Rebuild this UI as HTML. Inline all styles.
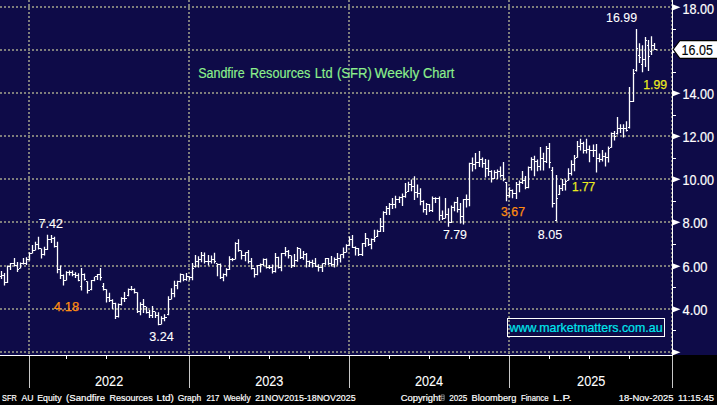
<!DOCTYPE html><html><head><meta charset="utf-8"><title>SFR Weekly Chart</title><style>html,body{margin:0;padding:0;background:#000;width:717px;height:405px;overflow:hidden;font-family:"Liberation Sans",sans-serif}</style></head><body><svg width="717" height="405" viewBox="0 0 717 405" style="display:block;position:absolute;left:0;top:0" font-family="Liberation Sans, sans-serif">
<rect x="0" y="0" width="717" height="405" fill="#000"/>
<rect x="0" y="0" width="717" height="355" fill="#0e0b48"/>
<defs><pattern id="hd" x="0" y="0" width="4" height="2" patternUnits="userSpaceOnUse"><rect x="0" y="0" width="2" height="2" fill="#7e7e7b"/></pattern><pattern id="vd" x="0" y="0" width="2" height="4" patternUnits="userSpaceOnUse"><rect x="0" y="0" width="2" height="2" fill="#7e7e7b"/></pattern></defs>
<g transform="translate(0,6)"><rect x="0" y="0" width="672" height="2" fill="url(#hd)"/></g>
<g transform="translate(0,49)"><rect x="0" y="0" width="672" height="2" fill="url(#hd)"/></g>
<g transform="translate(0,92)"><rect x="0" y="0" width="672" height="2" fill="url(#hd)"/></g>
<g transform="translate(0,135)"><rect x="0" y="0" width="672" height="2" fill="url(#hd)"/></g>
<g transform="translate(0,178)"><rect x="0" y="0" width="672" height="2" fill="url(#hd)"/></g>
<g transform="translate(0,221)"><rect x="0" y="0" width="672" height="2" fill="url(#hd)"/></g>
<g transform="translate(0,265)"><rect x="0" y="0" width="672" height="2" fill="url(#hd)"/></g>
<g transform="translate(0,308)"><rect x="0" y="0" width="672" height="2" fill="url(#hd)"/></g>
<g transform="translate(0,351)"><rect x="0" y="0" width="672" height="2" fill="url(#hd)"/></g>
<g transform="translate(28,0)"><rect x="0" y="0" width="2" height="354" fill="url(#vd)"/></g>
<g transform="translate(188,0)"><rect x="0" y="0" width="2" height="354" fill="url(#vd)"/></g>
<g transform="translate(348,0)"><rect x="0" y="0" width="2" height="354" fill="url(#vd)"/></g>
<g transform="translate(508,0)"><rect x="0" y="0" width="2" height="354" fill="url(#vd)"/></g>
<g transform="translate(671,0)"><rect x="0" y="0" width="2" height="354" fill="url(#vd)"/></g>
<rect x="672" y="0" width="1" height="355" fill="#fff"/>
<rect x="672" y="355" width="1" height="33" fill="#c8c8c8"/>
<rect x="0" y="355" width="673" height="1" fill="#fff"/>
<path d="M673 4.4 L680.5 7.3 L673 10.2 Z" fill="#fff"/>
<path d="M673 47.4 L680.5 50.3 L673 53.2 Z" fill="#fff"/>
<path d="M673 90.4 L680.5 93.3 L673 96.2 Z" fill="#fff"/>
<path d="M673 133.4 L680.5 136.3 L673 139.2 Z" fill="#fff"/>
<path d="M673 176.4 L680.5 179.3 L673 182.2 Z" fill="#fff"/>
<path d="M673 219.4 L680.5 222.3 L673 225.2 Z" fill="#fff"/>
<path d="M673 263.4 L680.5 266.3 L673 269.2 Z" fill="#fff"/>
<path d="M673 306.4 L680.5 309.3 L673 312.2 Z" fill="#fff"/>
<path d="M673 349.4 L680.5 352.3 L673 355.2 Z" fill="#fff"/>
<rect x="673" y="29" width="3" height="1" fill="#fff"/>
<rect x="673" y="72" width="3" height="1" fill="#fff"/>
<rect x="673" y="115" width="3" height="1" fill="#fff"/>
<rect x="673" y="158" width="3" height="1" fill="#fff"/>
<rect x="673" y="201" width="3" height="1" fill="#fff"/>
<rect x="673" y="244" width="3" height="1" fill="#fff"/>
<rect x="673" y="287" width="3" height="1" fill="#fff"/>
<rect x="673" y="330" width="3" height="1" fill="#fff"/>
<text x="682.5" y="13.9" font-size="14.2" fill="#fff" stroke="#fff" stroke-width="0.2" textLength="31.5" lengthAdjust="spacingAndGlyphs">18.00</text>
<text x="682.5" y="98.9" font-size="14.2" fill="#fff" stroke="#fff" stroke-width="0.2" textLength="31.5" lengthAdjust="spacingAndGlyphs">14.00</text>
<text x="682.5" y="141.9" font-size="14.2" fill="#fff" stroke="#fff" stroke-width="0.2" textLength="31.5" lengthAdjust="spacingAndGlyphs">12.00</text>
<text x="682.5" y="184.9" font-size="14.2" fill="#fff" stroke="#fff" stroke-width="0.2" textLength="31.5" lengthAdjust="spacingAndGlyphs">10.00</text>
<text x="682.5" y="227.9" font-size="14.2" fill="#fff" stroke="#fff" stroke-width="0.2" textLength="25" lengthAdjust="spacingAndGlyphs">8.00</text>
<text x="682.5" y="271.9" font-size="14.2" fill="#fff" stroke="#fff" stroke-width="0.2" textLength="25" lengthAdjust="spacingAndGlyphs">6.00</text>
<text x="682.5" y="314.9" font-size="14.2" fill="#fff" stroke="#fff" stroke-width="0.2" textLength="25" lengthAdjust="spacingAndGlyphs">4.00</text>
<path d="M673.2 49.4 L679.8 40.6 L722 40.6 L722 58.4 L679.8 58.4 Z" fill="#fff" stroke="#000" stroke-width="1.1"/>
<text x="681.6" y="55" font-size="14.5" fill="#000" stroke="#000" stroke-width="0.15" textLength="31.3" lengthAdjust="spacingAndGlyphs">16.05</text>
<rect x="29" y="356" width="1" height="32" fill="#c8c8c8"/>
<rect x="189" y="356" width="1" height="32" fill="#c8c8c8"/>
<rect x="349" y="356" width="1" height="32" fill="#c8c8c8"/>
<rect x="509" y="356" width="1" height="32" fill="#c8c8c8"/>
<rect x="66" y="356" width="1" height="3" fill="#fff"/>
<rect x="106" y="356" width="1" height="3" fill="#fff"/>
<rect x="149" y="356" width="1" height="3" fill="#fff"/>
<rect x="229" y="356" width="1" height="3" fill="#fff"/>
<rect x="269" y="356" width="1" height="3" fill="#fff"/>
<rect x="309" y="356" width="1" height="3" fill="#fff"/>
<rect x="389" y="356" width="1" height="3" fill="#fff"/>
<rect x="429" y="356" width="1" height="3" fill="#fff"/>
<rect x="469" y="356" width="1" height="3" fill="#fff"/>
<rect x="549" y="356" width="1" height="3" fill="#fff"/>
<rect x="589" y="356" width="1" height="3" fill="#fff"/>
<rect x="629" y="356" width="1" height="3" fill="#fff"/>
<text x="95.0" y="386.2" font-size="14.5" fill="#fff" stroke="#fff" stroke-width="0.1" textLength="28.2" lengthAdjust="spacingAndGlyphs">2022</text>
<text x="255.2" y="386.2" font-size="14.5" fill="#fff" stroke="#fff" stroke-width="0.1" textLength="28.2" lengthAdjust="spacingAndGlyphs">2023</text>
<text x="414.9" y="386.2" font-size="14.5" fill="#fff" stroke="#fff" stroke-width="0.1" textLength="28.2" lengthAdjust="spacingAndGlyphs">2024</text>
<text x="577.1" y="386.2" font-size="14.5" fill="#fff" stroke="#fff" stroke-width="0.1" textLength="28.2" lengthAdjust="spacingAndGlyphs">2025</text>
<text x="2.0" y="401" font-size="9.8" fill="#fff" stroke="#fff" stroke-width="0.2" textLength="14.7" lengthAdjust="spacingAndGlyphs">SFR</text>
<text x="21.4" y="401" font-size="9.8" fill="#fff" stroke="#fff" stroke-width="0.2" textLength="12.1" lengthAdjust="spacingAndGlyphs">AU</text>
<text x="37.2" y="401" font-size="9.8" fill="#fff" stroke="#fff" stroke-width="0.2" textLength="24.4" lengthAdjust="spacingAndGlyphs">Equity</text>
<text x="66.1" y="401" font-size="9.8" fill="#fff" stroke="#fff" stroke-width="0.2" textLength="39.0" lengthAdjust="spacingAndGlyphs">(Sandfire</text>
<text x="109.4" y="401" font-size="9.8" fill="#fff" stroke="#fff" stroke-width="0.2" textLength="43.3" lengthAdjust="spacingAndGlyphs">Resources</text>
<text x="156.6" y="401" font-size="9.8" fill="#fff" stroke="#fff" stroke-width="0.2" textLength="17.2" lengthAdjust="spacingAndGlyphs">Ltd)</text>
<text x="177.7" y="401" font-size="9.8" fill="#fff" stroke="#fff" stroke-width="0.2" textLength="23.5" lengthAdjust="spacingAndGlyphs">Graph</text>
<text x="206.4" y="401" font-size="9.8" fill="#fff" stroke="#fff" stroke-width="0.2" textLength="13.1" lengthAdjust="spacingAndGlyphs">217</text>
<text x="223.4" y="401" font-size="9.8" fill="#fff" stroke="#fff" stroke-width="0.2" textLength="27.2" lengthAdjust="spacingAndGlyphs">Weekly</text>
<text x="255.2" y="401" font-size="9.8" fill="#fff" stroke="#fff" stroke-width="0.2" textLength="100.4" lengthAdjust="spacingAndGlyphs">21NOV2015-18NOV2025</text>
<text x="400.7" y="401" font-size="9.8" fill="#fff" stroke="#fff" stroke-width="0.2" textLength="40.2" lengthAdjust="spacingAndGlyphs">Copyright</text>
<text x="449.2" y="401" font-size="9.8" fill="#fff" stroke="#fff" stroke-width="0.2" textLength="18.0" lengthAdjust="spacingAndGlyphs">2025</text>
<text x="471.6" y="401" font-size="9.8" fill="#fff" stroke="#fff" stroke-width="0.2" textLength="44.7" lengthAdjust="spacingAndGlyphs">Bloomberg</text>
<text x="520.9" y="401" font-size="9.8" fill="#fff" stroke="#fff" stroke-width="0.2" textLength="27.6" lengthAdjust="spacingAndGlyphs">Finance</text>
<text x="552.9" y="401" font-size="9.8" fill="#fff" stroke="#fff" stroke-width="0.2" textLength="18.8" lengthAdjust="spacingAndGlyphs">L.P.</text>
<text x="618.8" y="401" font-size="9.8" fill="#fff" stroke="#fff" stroke-width="0.2" textLength="54.6" lengthAdjust="spacingAndGlyphs">18-Nov-2025</text>
<text x="678" y="401" font-size="9.8" fill="#fff" stroke="#fff" stroke-width="0.2" textLength="35.9" lengthAdjust="spacingAndGlyphs">11:15:45</text>
<path d="M441.2 394.9h3v5.4h-3zM441.2 396.7h3M441.2 398.5h3" fill="none" stroke="#bdbdbd" stroke-width="0.6"/>
<text x="198.2" y="78.2" font-size="13.8" fill="#8cf08c" stroke="#8cf08c" stroke-width="0.15" textLength="46.5" lengthAdjust="spacingAndGlyphs">Sandfire</text>
<text x="249.9" y="78.2" font-size="13.8" fill="#8cf08c" stroke="#8cf08c" stroke-width="0.15" textLength="60.5" lengthAdjust="spacingAndGlyphs">Resources</text>
<text x="314.7" y="78.2" font-size="13.8" fill="#8cf08c" stroke="#8cf08c" stroke-width="0.15" textLength="17.9" lengthAdjust="spacingAndGlyphs">Ltd</text>
<text x="336.9" y="78.2" font-size="13.8" fill="#8cf08c" stroke="#8cf08c" stroke-width="0.15" textLength="35.0" lengthAdjust="spacingAndGlyphs">(SFR)</text>
<text x="374.5" y="78.2" font-size="13.8" fill="#8cf08c" stroke="#8cf08c" stroke-width="0.15" textLength="44.9" lengthAdjust="spacingAndGlyphs">Weekly</text>
<text x="422.9" y="78.2" font-size="13.8" fill="#8cf08c" stroke="#8cf08c" stroke-width="0.15" textLength="31.4" lengthAdjust="spacingAndGlyphs">Chart</text>
<rect x="507.5" y="318.5" width="157" height="18" fill="none" stroke="#fff" stroke-width="1"/>
<text x="509.6" y="332" font-size="12.8" fill="#00e8ee" stroke="#00e8ee" stroke-width="0.2" textLength="153" lengthAdjust="spacingAndGlyphs">www.marketmatters.com.au</text>
<text x="38.4" y="227.5" font-size="13.7" fill="#fff" stroke="#fff" stroke-width="0.1" textLength="24.6" lengthAdjust="spacingAndGlyphs">7.42</text>
<text x="53.8" y="310.8" font-size="13.7" fill="#ff8c10" stroke="#ff8c10" stroke-width="0.25" textLength="25.5" lengthAdjust="spacingAndGlyphs">4.18</text>
<text x="149.3" y="340.5" font-size="13.7" fill="#fff" stroke="#fff" stroke-width="0.1" textLength="24.6" lengthAdjust="spacingAndGlyphs">3.24</text>
<text x="442.9" y="238.8" font-size="13.7" fill="#fff" stroke="#fff" stroke-width="0.1" textLength="24" lengthAdjust="spacingAndGlyphs">7.79</text>
<text x="501" y="215.8" font-size="13.7" fill="#ff8c10" stroke="#ff8c10" stroke-width="0.25" textLength="24" lengthAdjust="spacingAndGlyphs">3.67</text>
<text x="537.8" y="238.8" font-size="13.7" fill="#fff" stroke="#fff" stroke-width="0.1" textLength="24.4" lengthAdjust="spacingAndGlyphs">8.05</text>
<text x="572" y="190.7" font-size="13.7" fill="#eaea1e" stroke="#eaea1e" stroke-width="0.25" textLength="23.2" lengthAdjust="spacingAndGlyphs">1.77</text>
<text x="606.1" y="21.6" font-size="13.7" fill="#fff" stroke="#fff" stroke-width="0.1" textLength="31" lengthAdjust="spacingAndGlyphs">16.99</text>
<text x="643.2" y="89.4" font-size="13.7" fill="#eaea1e" stroke="#eaea1e" stroke-width="0.25" textLength="23.8" lengthAdjust="spacingAndGlyphs">1.99</text>
<path d="M0.85 271.0h1.3V279.1h-1.3ZM0 275.9h1v1.2h-1ZM2 274.9h1v1.2h-1ZM3.85 273.0h1.3V285.6h-1.3ZM3 274.9h1v1.2h-1ZM5 281.9h1v1.2h-1ZM6.85 265.5h1.3V283.1h-1.3ZM6 281.9h1v1.2h-1ZM8 265.9h1v1.2h-1ZM9.85 263.0h1.3V270.1h-1.3ZM9 265.9h1v1.2h-1ZM11 262.9h2v1.2h-2ZM13.85 258.0h1.3V266.6h-1.3ZM13 262.9h1v1.2h-1ZM15 264.9h1v1.2h-1ZM16.85 262.0h1.3V272.1h-1.3ZM16 264.9h1v1.2h-1ZM18 268.9h1v1.2h-1ZM19.85 262.5h1.3V268.6h-1.3ZM19 267.9h1v1.2h-1ZM21 262.9h1v1.2h-1ZM22.85 258.0h1.3V264.6h-1.3ZM22 262.9h1v1.2h-1ZM24 262.9h1v1.2h-1ZM25.85 257.3h1.3V265.1h-1.3ZM25 262.9h1v1.2h-1ZM27 258.9h1v1.2h-1ZM28.85 252.3h1.3V260.6h-1.3ZM28 258.9h1v1.2h-1ZM30 252.9h1v1.2h-1ZM31.85 245.0h1.3V253.6h-1.3ZM31 252.9h1v1.2h-1ZM33 249.9h1v1.2h-1ZM34.85 241.7h1.3V250.6h-1.3ZM34 249.9h1v1.2h-1ZM36 243.9h1v1.2h-1ZM37.85 236.7h1.3V249.6h-1.3ZM37 243.9h1v1.2h-1ZM39 247.9h1v1.2h-1ZM40.85 248.4h1.3V258.6h-1.3ZM40 247.9h1v1.2h-1ZM42 253.9h1v1.2h-1ZM43.85 246.8h1.3V255.6h-1.3ZM43 253.9h1v1.2h-1ZM45 248.9h1v1.2h-1ZM46.85 234.8h1.3V250.1h-1.3ZM46 248.9h1v1.2h-1ZM48 238.9h2v1.2h-2ZM50.85 235.0h1.3V242.9h-1.3ZM50 238.9h1v1.2h-1ZM52 237.9h1v1.2h-1ZM53.85 236.7h1.3V247.4h-1.3ZM53 237.9h1v1.2h-1ZM55 245.9h1v1.2h-1ZM56.85 241.7h1.3V273.2h-1.3ZM56 245.9h1v1.2h-1ZM58 268.9h1v1.2h-1ZM59.85 265.6h1.3V279.0h-1.3ZM59 268.9h1v1.2h-1ZM61 274.9h1v1.2h-1ZM62.85 274.5h1.3V285.6h-1.3ZM62 274.9h1v1.2h-1ZM64 279.9h1v1.2h-1ZM65.85 271.2h1.3V280.6h-1.3ZM65 279.9h1v1.2h-1ZM67 271.9h1v1.2h-1ZM68.85 270.6h1.3V275.6h-1.3ZM68 271.9h1v1.2h-1ZM70 271.9h1v1.2h-1ZM71.85 270.6h1.3V276.2h-1.3ZM71 271.9h1v1.2h-1ZM73 273.9h1v1.2h-1ZM74.85 272.3h1.3V278.1h-1.3ZM74 273.9h1v1.2h-1ZM76 274.9h1v1.2h-1ZM77.85 273.2h1.3V281.3h-1.3ZM77 274.9h1v1.2h-1ZM79 279.9h1v1.2h-1ZM80.85 268.0h1.3V290.6h-1.3ZM80 285.9h1v1.2h-1ZM82 273.9h1v1.2h-1ZM83.85 273.4h1.3V280.6h-1.3ZM83 273.9h1v1.2h-1ZM85 278.9h1v1.2h-1ZM86.85 281.2h1.3V293.6h-1.3ZM86 280.9h1v1.2h-1ZM88 289.9h2v1.2h-2ZM90.85 280.0h1.3V290.2h-1.3ZM90 288.9h1v1.2h-1ZM92 279.9h1v1.2h-1ZM93.85 276.7h1.3V281.2h-1.3ZM93 279.9h1v1.2h-1ZM95 275.9h1v1.2h-1ZM96.85 274.0h1.3V280.1h-1.3ZM96 275.9h1v1.2h-1ZM98 273.9h1v1.2h-1ZM99.85 268.0h1.3V280.6h-1.3ZM99 273.9h1v1.2h-1ZM101 276.9h1v1.2h-1ZM102.85 282.9h1.3V290.6h-1.3ZM102 285.9h1v1.2h-1ZM104 288.9h1v1.2h-1ZM105.85 289.2h1.3V302.4h-1.3ZM105 288.9h1v1.2h-1ZM107 296.9h1v1.2h-1ZM108.85 292.8h1.3V302.1h-1.3ZM108 296.9h1v1.2h-1ZM110 299.9h1v1.2h-1ZM111.85 299.3h1.3V309.0h-1.3ZM111 299.9h1v1.2h-1ZM113 302.9h1v1.2h-1ZM114.85 302.8h1.3V319.1h-1.3ZM114 302.9h1v1.2h-1ZM116 315.9h1v1.2h-1ZM117.85 303.4h1.3V317.4h-1.3ZM117 315.9h1v1.2h-1ZM119 303.9h1v1.2h-1ZM120.85 297.3h1.3V305.6h-1.3ZM120 303.9h1v1.2h-1ZM122 297.9h1v1.2h-1ZM123.85 292.0h1.3V302.1h-1.3ZM123 297.9h1v1.2h-1ZM125 297.9h2v1.2h-2ZM127.85 288.5h1.3V296.3h-1.3ZM127 294.9h1v1.2h-1ZM129 288.9h1v1.2h-1ZM130.85 285.9h1.3V290.6h-1.3ZM130 288.9h1v1.2h-1ZM132 288.9h1v1.2h-1ZM133.85 288.5h1.3V293.6h-1.3ZM133 288.9h1v1.2h-1ZM135 291.9h1v1.2h-1ZM136.85 292.3h1.3V312.9h-1.3ZM136 291.9h1v1.2h-1ZM138 310.9h1v1.2h-1ZM139.85 302.3h1.3V315.2h-1.3ZM139 310.9h1v1.2h-1ZM141 303.9h1v1.2h-1ZM142.85 299.1h1.3V312.9h-1.3ZM142 303.9h1v1.2h-1ZM144 305.9h1v1.2h-1ZM145.85 306.7h1.3V313.5h-1.3ZM145 305.9h1v1.2h-1ZM147 311.9h1v1.2h-1ZM148.85 310.0h1.3V317.9h-1.3ZM148 311.9h1v1.2h-1ZM150 314.9h1v1.2h-1ZM151.85 306.0h1.3V318.0h-1.3ZM151 314.9h1v1.2h-1ZM153 310.9h1v1.2h-1ZM154.85 311.8h1.3V318.0h-1.3ZM154 310.9h1v1.2h-1ZM156 314.9h1v1.2h-1ZM157.85 312.3h1.3V325.2h-1.3ZM157 314.9h1v1.2h-1ZM159 323.9h1v1.2h-1ZM160.85 316.3h1.3V324.6h-1.3ZM160 323.9h1v1.2h-1ZM162 317.9h1v1.2h-1ZM163.85 314.2h1.3V321.3h-1.3ZM163 317.9h1v1.2h-1ZM165 316.9h2v1.2h-2ZM167.85 296.2h1.3V315.2h-1.3ZM167 313.9h1v1.2h-1ZM169 298.9h1v1.2h-1ZM170.85 288.3h1.3V299.6h-1.3ZM170 298.9h1v1.2h-1ZM172 292.9h1v1.2h-1ZM173.85 280.7h1.3V297.3h-1.3ZM173 292.9h1v1.2h-1ZM175 284.9h1v1.2h-1ZM176.85 280.7h1.3V289.3h-1.3ZM176 284.9h1v1.2h-1ZM178 280.9h1v1.2h-1ZM179.85 273.5h1.3V282.4h-1.3ZM179 280.9h1v1.2h-1ZM181 273.9h1v1.2h-1ZM182.85 274.2h1.3V281.3h-1.3ZM182 273.9h1v1.2h-1ZM184 278.9h1v1.2h-1ZM185.85 272.9h1.3V280.8h-1.3ZM185 278.9h1v1.2h-1ZM187 275.9h1v1.2h-1ZM188.85 276.3h1.3V280.2h-1.3ZM188 275.9h1v1.2h-1ZM190 276.9h1v1.2h-1ZM191.85 262.9h1.3V280.2h-1.3ZM191 276.9h1v1.2h-1ZM193 267.9h1v1.2h-1ZM194.85 255.0h1.3V267.4h-1.3ZM194 265.9h1v1.2h-1ZM196 260.9h1v1.2h-1ZM197.85 256.2h1.3V267.4h-1.3ZM197 260.9h1v1.2h-1ZM199 258.9h1v1.2h-1ZM200.85 251.9h1.3V262.3h-1.3ZM200 258.9h1v1.2h-1ZM202 254.9h1v1.2h-1ZM203.85 252.6h1.3V263.5h-1.3ZM203 254.9h1v1.2h-1ZM205 260.9h2v1.2h-2ZM207.85 255.0h1.3V265.5h-1.3ZM207 260.9h1v1.2h-1ZM209 260.9h1v1.2h-1ZM210.85 255.6h1.3V263.5h-1.3ZM210 260.9h1v1.2h-1ZM212 258.9h1v1.2h-1ZM213.85 252.8h1.3V263.5h-1.3ZM213 258.9h1v1.2h-1ZM215 260.9h1v1.2h-1ZM216.85 263.4h1.3V276.3h-1.3ZM216 262.9h1v1.2h-1ZM218 263.9h1v1.2h-1ZM219.85 263.4h1.3V279.1h-1.3ZM219 263.9h1v1.2h-1ZM221 276.9h1v1.2h-1ZM222.85 273.5h1.3V281.3h-1.3ZM222 276.9h1v1.2h-1ZM224 273.9h1v1.2h-1ZM225.85 268.2h1.3V276.6h-1.3ZM225 273.9h1v1.2h-1ZM227 268.9h1v1.2h-1ZM228.85 256.2h1.3V269.9h-1.3ZM228 268.9h1v1.2h-1ZM230 258.9h1v1.2h-1ZM231.85 257.9h1.3V261.3h-1.3ZM231 258.9h1v1.2h-1ZM233 258.9h1v1.2h-1ZM234.85 242.3h1.3V259.6h-1.3ZM234 258.9h1v1.2h-1ZM236 242.9h1v1.2h-1ZM237.85 239.2h1.3V251.8h-1.3ZM237 242.9h1v1.2h-1ZM239 249.9h1v1.2h-1ZM240.85 250.6h1.3V259.6h-1.3ZM240 249.9h1v1.2h-1ZM242 254.9h2v1.2h-2ZM244.85 252.3h1.3V261.3h-1.3ZM244 254.9h1v1.2h-1ZM246 251.9h1v1.2h-1ZM247.85 250.0h1.3V263.5h-1.3ZM247 251.9h1v1.2h-1ZM249 260.9h1v1.2h-1ZM250.85 257.9h1.3V269.6h-1.3ZM250 260.9h1v1.2h-1ZM252 267.9h1v1.2h-1ZM253.85 267.9h1.3V277.5h-1.3ZM253 267.9h1v1.2h-1ZM255 273.9h1v1.2h-1ZM256.85 264.9h1.3V275.2h-1.3ZM256 273.9h1v1.2h-1ZM258 264.9h1v1.2h-1ZM259.85 263.5h1.3V272.4h-1.3ZM259 264.9h1v1.2h-1ZM261 263.9h1v1.2h-1ZM262.85 258.4h1.3V266.3h-1.3ZM262 263.9h1v1.2h-1ZM264 258.9h1v1.2h-1ZM265.85 258.4h1.3V268.5h-1.3ZM265 258.9h1v1.2h-1ZM267 266.9h1v1.2h-1ZM268.85 265.0h1.3V269.1h-1.3ZM268 266.9h1v1.2h-1ZM270 266.9h1v1.2h-1ZM271.85 264.6h1.3V273.5h-1.3ZM271 266.9h1v1.2h-1ZM273 270.9h1v1.2h-1ZM274.85 252.9h1.3V272.4h-1.3ZM274 270.9h1v1.2h-1ZM276 256.9h1v1.2h-1ZM277.85 256.8h1.3V268.5h-1.3ZM277 256.9h1v1.2h-1ZM279 266.9h1v1.2h-1ZM280.85 252.9h1.3V271.3h-1.3ZM280 266.9h1v1.2h-1ZM282 252.9h2v1.2h-2ZM284.85 247.0h1.3V256.2h-1.3ZM284 252.9h1v1.2h-1ZM286 250.9h1v1.2h-1ZM287.85 250.0h1.3V258.5h-1.3ZM287 250.9h1v1.2h-1ZM289 254.9h1v1.2h-1ZM290.85 255.6h1.3V268.0h-1.3ZM290 254.9h1v1.2h-1ZM292 264.9h1v1.2h-1ZM293.85 254.0h1.3V266.9h-1.3ZM293 264.9h1v1.2h-1ZM295 259.9h1v1.2h-1ZM296.85 247.0h1.3V261.8h-1.3ZM296 259.9h1v1.2h-1ZM298 247.9h1v1.2h-1ZM299.85 248.4h1.3V259.0h-1.3ZM299 247.9h1v1.2h-1ZM301 256.9h1v1.2h-1ZM302.85 250.9h1.3V259.8h-1.3ZM302 256.9h1v1.2h-1ZM304 253.9h1v1.2h-1ZM305.85 253.0h1.3V267.6h-1.3ZM305 253.9h1v1.2h-1ZM307 260.9h1v1.2h-1ZM308.85 260.4h1.3V267.1h-1.3ZM308 260.9h1v1.2h-1ZM310 261.9h1v1.2h-1ZM311.85 259.8h1.3V267.6h-1.3ZM311 261.9h1v1.2h-1ZM313 262.9h1v1.2h-1ZM314.85 257.9h1.3V267.1h-1.3ZM314 262.9h1v1.2h-1ZM316 265.9h1v1.2h-1ZM317.85 264.3h1.3V271.6h-1.3ZM317 265.9h1v1.2h-1ZM319 266.9h2v1.2h-2ZM321.85 263.2h1.3V272.1h-1.3ZM321 266.9h1v1.2h-1ZM323 262.9h1v1.2h-1ZM324.85 258.1h1.3V264.9h-1.3ZM324 262.9h1v1.2h-1ZM326 257.9h1v1.2h-1ZM327.85 258.1h1.3V264.9h-1.3ZM327 257.9h1v1.2h-1ZM329 262.9h1v1.2h-1ZM330.85 255.9h1.3V266.6h-1.3ZM330 262.9h1v1.2h-1ZM332 263.9h1v1.2h-1ZM333.85 257.6h1.3V267.6h-1.3ZM333 263.9h1v1.2h-1ZM335 258.9h1v1.2h-1ZM336.85 253.1h1.3V265.4h-1.3ZM336 258.9h1v1.2h-1ZM338 257.9h1v1.2h-1ZM339.85 254.2h1.3V262.6h-1.3ZM339 257.9h1v1.2h-1ZM341 253.9h1v1.2h-1ZM342.85 247.5h1.3V258.2h-1.3ZM342 253.9h1v1.2h-1ZM344 251.9h1v1.2h-1ZM345.85 244.2h1.3V252.6h-1.3ZM345 251.9h1v1.2h-1ZM347 244.9h1v1.2h-1ZM348.85 236.4h1.3V245.9h-1.3ZM348 244.9h1v1.2h-1ZM350 238.9h1v1.2h-1ZM351.85 234.9h1.3V248.1h-1.3ZM351 238.9h1v1.2h-1ZM353 246.9h1v1.2h-1ZM354.85 246.4h1.3V255.4h-1.3ZM354 246.9h1v1.2h-1ZM356 247.9h1v1.2h-1ZM357.85 248.1h1.3V255.9h-1.3ZM357 247.9h1v1.2h-1ZM359 253.9h2v1.2h-2ZM361.85 243.1h1.3V255.9h-1.3ZM361 253.9h1v1.2h-1ZM363 242.9h1v1.2h-1ZM364.85 233.0h1.3V247.0h-1.3ZM364 242.9h1v1.2h-1ZM366 237.9h1v1.2h-1ZM367.85 238.6h1.3V245.9h-1.3ZM367 237.9h1v1.2h-1ZM369 243.9h1v1.2h-1ZM370.85 238.6h1.3V249.2h-1.3ZM370 243.9h1v1.2h-1ZM372 238.9h1v1.2h-1ZM373.85 229.7h1.3V242.0h-1.3ZM373 238.9h1v1.2h-1ZM375 236.9h1v1.2h-1ZM376.85 229.8h1.3V237.0h-1.3ZM376 235.9h1v1.2h-1ZM378 230.9h1v1.2h-1ZM379.85 218.0h1.3V231.9h-1.3ZM379 230.9h1v1.2h-1ZM381 225.9h1v1.2h-1ZM382.85 211.3h1.3V232.1h-1.3ZM382 225.9h1v1.2h-1ZM384 211.9h1v1.2h-1ZM385.85 206.0h1.3V214.9h-1.3ZM385 211.9h1v1.2h-1ZM387 207.9h1v1.2h-1ZM388.85 203.0h1.3V214.9h-1.3ZM388 207.9h1v1.2h-1ZM390 203.9h1v1.2h-1ZM391.85 198.0h1.3V208.9h-1.3ZM391 203.9h1v1.2h-1ZM393 203.9h1v1.2h-1ZM394.85 195.7h1.3V208.2h-1.3ZM394 203.9h1v1.2h-1ZM396 198.9h2v1.2h-2ZM398.85 196.5h1.3V203.0h-1.3ZM398 198.9h1v1.2h-1ZM400 196.9h1v1.2h-1ZM401.85 193.5h1.3V206.0h-1.3ZM401 196.9h1v1.2h-1ZM403 195.9h1v1.2h-1ZM404.85 183.0h1.3V197.8h-1.3ZM404 195.9h1v1.2h-1ZM406 191.9h1v1.2h-1ZM407.85 181.7h1.3V191.9h-1.3ZM407 190.9h1v1.2h-1ZM409 183.9h1v1.2h-1ZM410.85 179.4h1.3V191.2h-1.3ZM410 183.9h1v1.2h-1ZM412 185.9h1v1.2h-1ZM413.85 176.2h1.3V200.0h-1.3ZM413 185.9h1v1.2h-1ZM415 191.9h1v1.2h-1ZM416.85 184.6h1.3V197.8h-1.3ZM416 191.9h1v1.2h-1ZM418 192.9h1v1.2h-1ZM419.85 188.3h1.3V205.2h-1.3ZM419 192.9h1v1.2h-1ZM421 200.9h1v1.2h-1ZM422.85 200.2h1.3V212.6h-1.3ZM422 200.9h1v1.2h-1ZM424 208.9h1v1.2h-1ZM425.85 203.0h1.3V214.9h-1.3ZM425 208.9h1v1.2h-1ZM427 203.9h1v1.2h-1ZM428.85 203.9h1.3V211.9h-1.3ZM428 203.9h1v1.2h-1ZM430 209.9h1v1.2h-1ZM431.85 196.5h1.3V211.9h-1.3ZM431 209.9h1v1.2h-1ZM433 197.9h1v1.2h-1ZM434.85 197.2h1.3V203.0h-1.3ZM434 197.9h1v1.2h-1ZM436 197.9h2v1.2h-2ZM438.85 196.5h1.3V220.8h-1.3ZM438 197.9h1v1.2h-1ZM440 214.9h1v1.2h-1ZM441.85 210.6h1.3V220.0h-1.3ZM441 214.9h1v1.2h-1ZM443 217.9h1v1.2h-1ZM444.85 198.0h1.3V218.6h-1.3ZM444 217.9h1v1.2h-1ZM446 213.9h1v1.2h-1ZM447.85 208.3h1.3V226.7h-1.3ZM447 213.9h1v1.2h-1ZM449 221.9h1v1.2h-1ZM450.85 205.4h1.3V223.0h-1.3ZM450 221.9h1v1.2h-1ZM452 206.9h1v1.2h-1ZM453.85 201.7h1.3V211.3h-1.3ZM453 206.9h1v1.2h-1ZM455 201.9h1v1.2h-1ZM456.85 197.0h1.3V212.4h-1.3ZM456 201.9h1v1.2h-1ZM458 208.9h1v1.2h-1ZM459.85 202.9h1.3V223.5h-1.3ZM459 208.9h1v1.2h-1ZM461 215.9h1v1.2h-1ZM462.85 199.0h1.3V224.6h-1.3ZM462 215.9h1v1.2h-1ZM464 198.9h1v1.2h-1ZM465.85 194.5h1.3V207.4h-1.3ZM465 198.9h1v1.2h-1ZM467 198.9h1v1.2h-1ZM468.85 162.8h1.3V206.2h-1.3ZM468 198.9h1v1.2h-1ZM470 162.9h1v1.2h-1ZM471.85 157.6h1.3V171.6h-1.3ZM471 162.9h1v1.2h-1ZM473 163.9h1v1.2h-1ZM474.85 153.0h1.3V169.3h-1.3ZM474 163.9h1v1.2h-1ZM476 161.9h2v1.2h-2ZM478.85 151.0h1.3V167.1h-1.3ZM478 161.9h1v1.2h-1ZM480 158.9h1v1.2h-1ZM481.85 157.6h1.3V167.8h-1.3ZM481 158.9h1v1.2h-1ZM483 162.9h1v1.2h-1ZM484.85 159.0h1.3V177.5h-1.3ZM484 162.9h1v1.2h-1ZM486 167.9h1v1.2h-1ZM487.85 159.8h1.3V176.0h-1.3ZM487 167.9h1v1.2h-1ZM489 170.9h1v1.2h-1ZM490.85 170.2h1.3V182.6h-1.3ZM490 170.9h1v1.2h-1ZM492 177.9h1v1.2h-1ZM493.85 170.2h1.3V178.9h-1.3ZM493 177.9h1v1.2h-1ZM495 171.9h1v1.2h-1ZM496.85 169.4h1.3V178.9h-1.3ZM496 171.9h1v1.2h-1ZM498 170.9h1v1.2h-1ZM499.85 166.5h1.3V177.5h-1.3ZM499 170.9h1v1.2h-1ZM501 174.9h1v1.2h-1ZM502.85 162.0h1.3V181.2h-1.3ZM502 174.9h1v1.2h-1ZM504 178.9h1v1.2h-1ZM505.85 182.0h1.3V201.2h-1.3ZM505 181.9h1v1.2h-1ZM507 194.9h1v1.2h-1ZM508.85 187.2h1.3V197.5h-1.3ZM508 194.9h1v1.2h-1ZM510 189.9h1v1.2h-1ZM511.85 189.4h1.3V198.2h-1.3ZM511 189.9h1v1.2h-1ZM513 192.9h2v1.2h-2ZM515.85 182.0h1.3V198.9h-1.3ZM515 192.9h1v1.2h-1ZM517 183.9h1v1.2h-1ZM518.85 180.6h1.3V192.3h-1.3ZM518 183.9h1v1.2h-1ZM520 181.9h1v1.2h-1ZM521.85 170.9h1.3V184.1h-1.3ZM521 181.9h1v1.2h-1ZM523 179.9h1v1.2h-1ZM524.85 176.1h1.3V189.3h-1.3ZM524 179.9h1v1.2h-1ZM526 186.9h1v1.2h-1ZM527.85 166.5h1.3V188.2h-1.3ZM527 186.9h1v1.2h-1ZM529 166.9h1v1.2h-1ZM530.85 157.2h1.3V170.4h-1.3ZM530 166.9h1v1.2h-1ZM532 158.9h1v1.2h-1ZM533.85 155.7h1.3V176.3h-1.3ZM533 158.9h1v1.2h-1ZM535 160.9h1v1.2h-1ZM536.85 159.4h1.3V171.2h-1.3ZM536 160.9h1v1.2h-1ZM538 165.9h1v1.2h-1ZM539.85 146.9h1.3V170.4h-1.3ZM539 165.9h1v1.2h-1ZM541 157.9h1v1.2h-1ZM542.85 152.8h1.3V170.4h-1.3ZM542 157.9h1v1.2h-1ZM544 160.9h1v1.2h-1ZM545.85 146.0h1.3V163.0h-1.3ZM545 160.9h1v1.2h-1ZM547 147.9h1v1.2h-1ZM548.85 143.0h1.3V168.2h-1.3ZM548 147.9h1v1.2h-1ZM550 161.9h1v1.2h-1ZM551.85 166.9h1.3V207.4h-1.3ZM551 169.9h1v1.2h-1ZM553 202.9h2v1.2h-2ZM555.85 175.0h1.3V221.3h-1.3ZM555 219.9h1v1.2h-1ZM557 197.9h1v1.2h-1ZM558.85 185.0h1.3V195.1h-1.3ZM558 193.9h1v1.2h-1ZM560 187.9h1v1.2h-1ZM561.85 179.0h1.3V191.1h-1.3ZM561 187.9h1v1.2h-1ZM563 183.9h1v1.2h-1ZM564.85 179.4h1.3V190.6h-1.3ZM564 183.9h1v1.2h-1ZM566 180.9h1v1.2h-1ZM567.85 168.3h1.3V180.8h-1.3ZM567 179.9h1v1.2h-1ZM569 172.9h1v1.2h-1ZM570.85 160.2h1.3V175.6h-1.3ZM570 172.9h1v1.2h-1ZM572 163.9h1v1.2h-1ZM573.85 155.0h1.3V171.2h-1.3ZM573 163.9h1v1.2h-1ZM575 157.9h1v1.2h-1ZM576.85 141.0h1.3V157.8h-1.3ZM576 156.9h1v1.2h-1ZM578 145.9h1v1.2h-1ZM579.85 138.7h1.3V150.4h-1.3ZM579 145.9h1v1.2h-1ZM581 142.9h1v1.2h-1ZM582.85 141.7h1.3V153.4h-1.3ZM582 142.9h1v1.2h-1ZM584 149.9h1v1.2h-1ZM585.85 138.7h1.3V153.4h-1.3ZM585 149.9h1v1.2h-1ZM587 148.9h1v1.2h-1ZM588.85 145.4h1.3V162.3h-1.3ZM588 148.9h1v1.2h-1ZM590 149.9h2v1.2h-2ZM592.85 144.6h1.3V157.1h-1.3ZM592 149.9h1v1.2h-1ZM594 149.9h1v1.2h-1ZM595.85 143.9h1.3V172.6h-1.3ZM595 149.9h1v1.2h-1ZM597 157.9h1v1.2h-1ZM598.85 153.5h1.3V162.3h-1.3ZM598 157.9h1v1.2h-1ZM600 158.9h1v1.2h-1ZM601.85 150.0h1.3V161.6h-1.3ZM601 158.9h1v1.2h-1ZM603 155.9h1v1.2h-1ZM604.85 152.4h1.3V166.6h-1.3ZM604 155.9h1v1.2h-1ZM606 156.9h1v1.2h-1ZM607.85 146.5h1.3V162.6h-1.3ZM607 156.9h1v1.2h-1ZM609 147.9h1v1.2h-1ZM610.85 132.4h1.3V147.8h-1.3ZM610 146.9h1v1.2h-1ZM612 132.9h1v1.2h-1ZM613.85 131.0h1.3V140.4h-1.3ZM613 132.9h1v1.2h-1ZM615 135.9h1v1.2h-1ZM616.85 116.9h1.3V134.5h-1.3ZM616 132.9h1v1.2h-1ZM618 127.9h1v1.2h-1ZM619.85 124.3h1.3V133.0h-1.3ZM619 127.9h1v1.2h-1ZM621 127.9h1v1.2h-1ZM622.85 124.3h1.3V137.5h-1.3ZM622 127.9h1v1.2h-1ZM624 127.9h1v1.2h-1ZM625.85 121.3h1.3V131.5h-1.3ZM625 127.9h1v1.2h-1ZM627 129.9h1v1.2h-1ZM628.85 86.9h1.3V128.6h-1.3ZM628 126.9h1v1.2h-1ZM630 100.9h2v1.2h-2ZM632.85 69.0h1.3V102.1h-1.3ZM632 100.9h1v1.2h-1ZM634 72.9h1v1.2h-1ZM635.85 29.1h1.3V71.4h-1.3ZM635 69.9h1v1.2h-1ZM637 47.9h1v1.2h-1ZM638.85 43.3h1.3V63.1h-1.3ZM638 54.9h1v1.2h-1ZM640 56.9h1v1.2h-1ZM641.85 45.3h1.3V72.3h-1.3ZM641 63.9h1v1.2h-1ZM643 58.9h1v1.2h-1ZM644.85 37.1h1.3V67.1h-1.3ZM644 58.9h1v1.2h-1ZM646 39.9h1v1.2h-1ZM647.85 39.9h1.3V71.1h-1.3ZM647 44.9h1v1.2h-1ZM649 55.9h1v1.2h-1ZM650.85 36.2h1.3V55.1h-1.3ZM650 50.9h1v1.2h-1ZM652 44.9h1v1.2h-1ZM653.85 43.0h1.3V49.7h-1.3ZM653 44.9h1v1.2h-1ZM655 48.9h2v1.2h-2Z" fill="#fff"/>
</svg></body></html>
